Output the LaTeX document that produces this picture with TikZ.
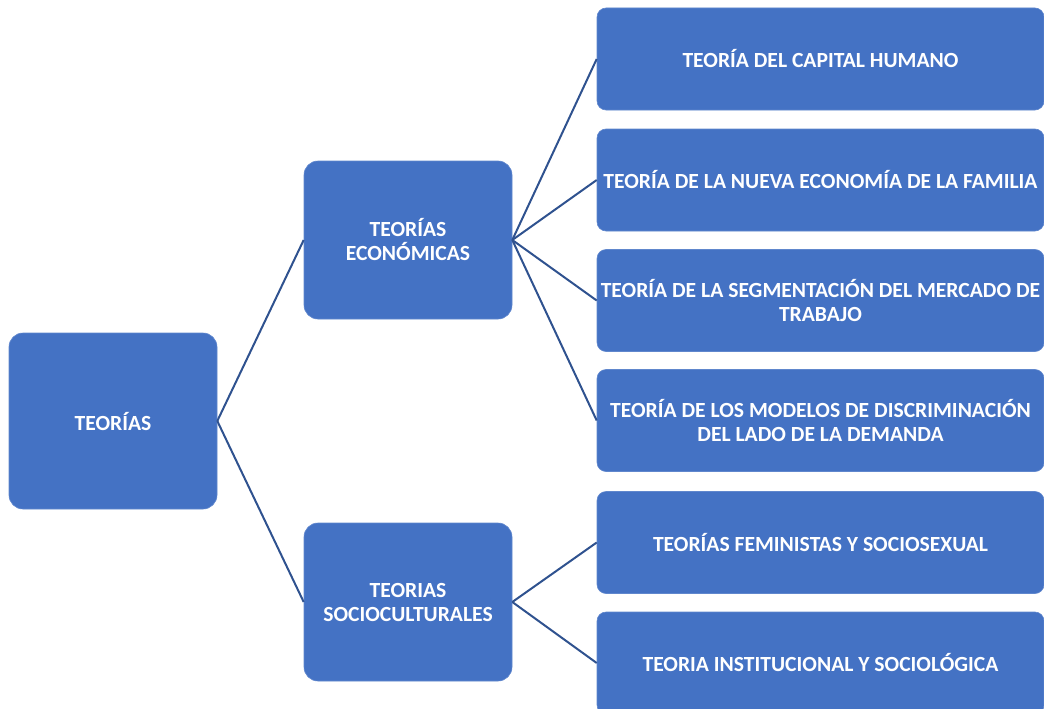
\documentclass[tikz,border=0pt]{standalone}
\usepackage{fontspec}
\setmainfont{Carlito}
\definecolor{boxblue}{HTML}{4472C4}
\definecolor{lineblue}{HTML}{2F528F}
\begin{document}
\begin{tikzpicture}[x=1pt,y=-1pt,
  box/.style={rectangle, fill=boxblue, draw=boxblue!85!white, line width=0.6pt, text=white,
    font=\bfseries\fontsize{21.6}{24}\selectfont, align=center, inner sep=0pt},
  mainbox/.style={box, rounded corners=14pt, minimum width=208pt, minimum height=176pt},
  midbox/.style={box, rounded corners=14pt, minimum width=208pt, minimum height=158pt},
  leafbox/.style={box, rounded corners=9pt, minimum width=447pt, minimum height=102pt},
  conn/.style={draw=lineblue, line width=2pt}]
\useasboundingbox (0,0) rectangle (1044,709);
\begin{scope}
\clip (0,0) rectangle (1044,709);
\node[mainbox] (teo) at (113,421) {TEORÍAS};
\node[midbox] (eco) at (408,240) {TEORÍAS\\ECONÓMICAS};
\node[midbox] (soc) at (408,602) {TEORIAS\\SOCIOCULTURALES};
\node[leafbox] (l1) at (820.5,59) {TEORÍA DEL CAPITAL HUMANO};
\node[leafbox] (l2) at (820.5,180) {TEORÍA DE LA NUEVA ECONOMÍA DE LA FAMILIA};
\node[leafbox] (l3) at (820.5,300.5) {TEORÍA DE LA SEGMENTACIÓN DEL MERCADO DE\\TRABAJO};
\node[leafbox] (l4) at (820.5,420.5) {TEORÍA DE LOS MODELOS DE DISCRIMINACIÓN\\DEL LADO DE LA DEMANDA};
\node[leafbox] (l5) at (820.5,542.5) {TEORÍAS FEMINISTAS Y SOCIOSEXUAL};
\node[leafbox] (l6) at (820.5,663) {TEORIA INSTITUCIONAL Y SOCIOLÓGICA};
\path[conn] (teo.east) -- (eco.west);
\path[conn] (teo.east) -- (soc.west);
\path[conn] (eco.east) -- (l1.west);
\path[conn] (eco.east) -- (l2.west);
\path[conn] (eco.east) -- (l3.west);
\path[conn] (eco.east) -- (l4.west);
\path[conn] (soc.east) -- (l5.west);
\path[conn] (soc.east) -- (l6.west);
\end{scope}
\end{tikzpicture}
\end{document}
